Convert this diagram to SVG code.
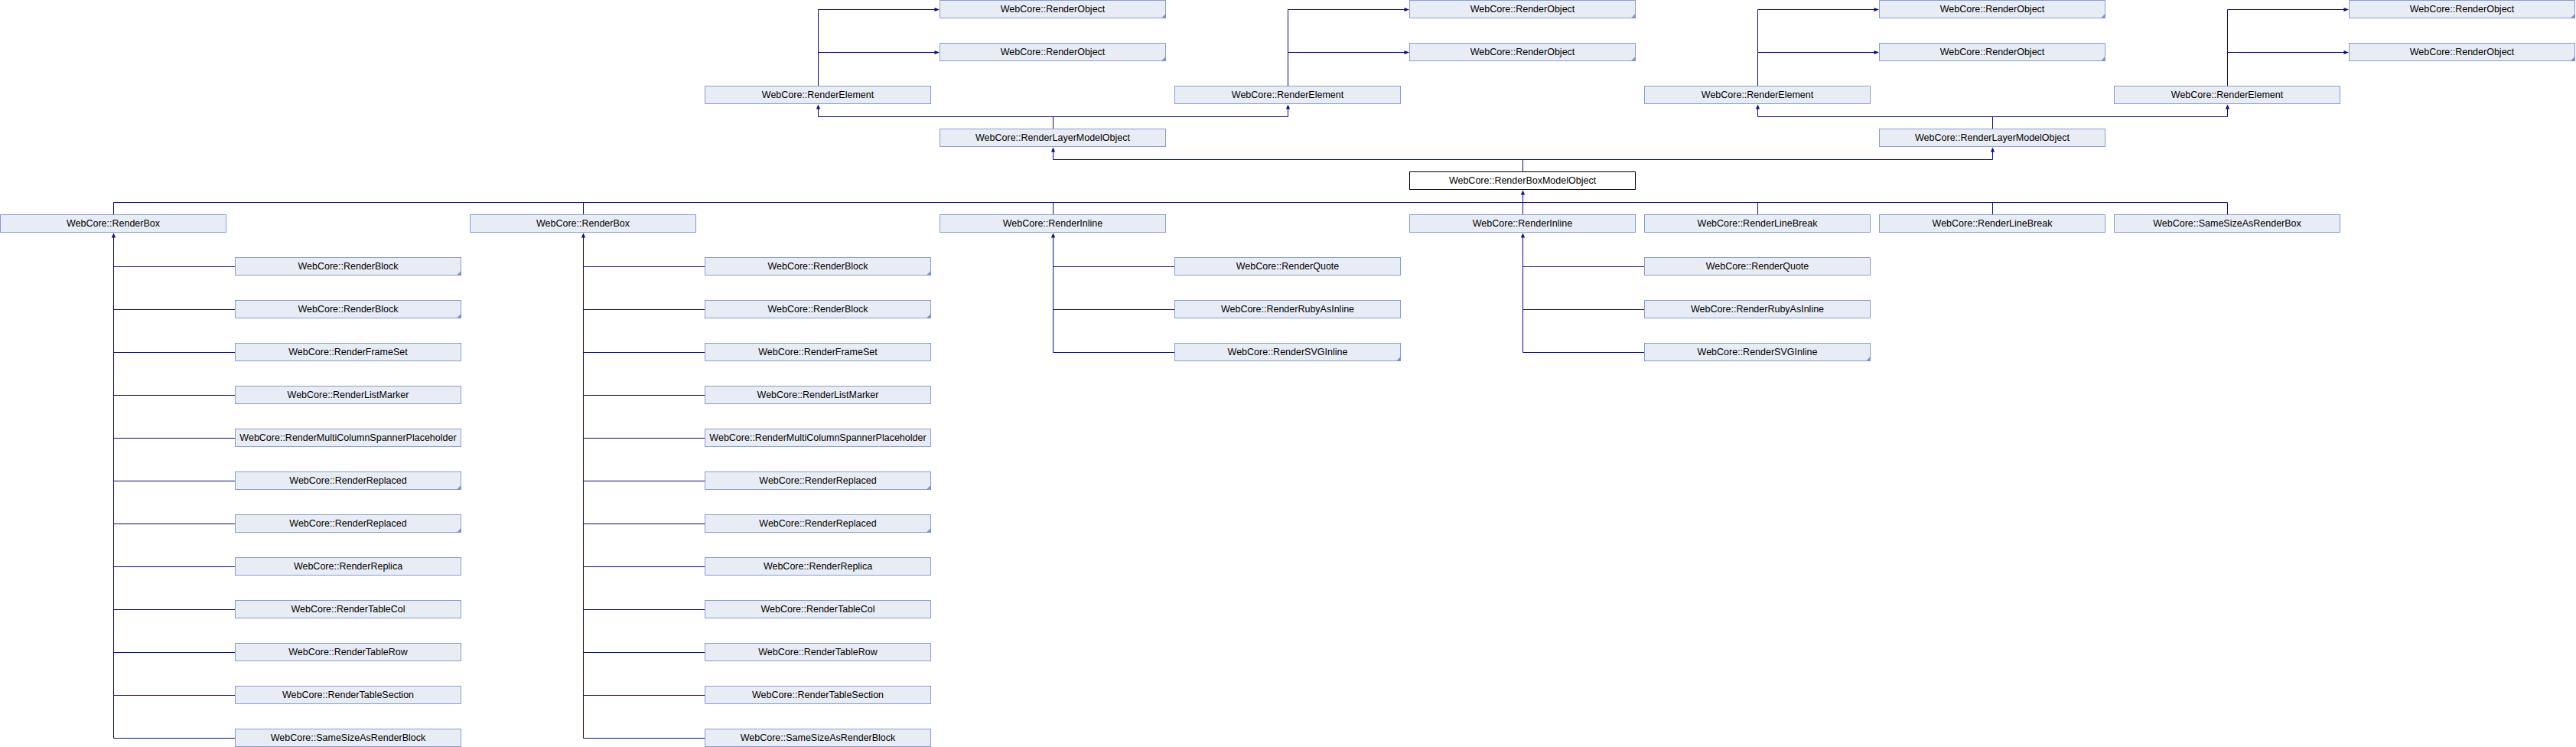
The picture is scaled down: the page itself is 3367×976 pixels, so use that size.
<svg xmlns="http://www.w3.org/2000/svg" width="3367" height="976" viewBox="0 0 3367 976">
<style>
.b{fill:#e8ecf5;stroke:#8a9dd0;stroke-width:1}
.f{fill:#ffffff;stroke:#000000;stroke-width:1}
.t{font-family:"Liberation Sans",Arial,sans-serif;font-size:12.5px;fill:#000000;text-anchor:middle}
.tri{fill:#8393c8}
.ln{fill:none;stroke:#0a0a8e;stroke-width:1}
.ah{fill:#0a0a8e}
</style>
<rect width="3367" height="976" fill="#ffffff"/>
<g id="connectors">
<path class="ln" d="M1069.5 112V12.5H1222M1069.5 68.5H1222M1683.5 112V12.5H1836M1683.5 68.5H1836M2297.5 112V12.5H2450M2297.5 68.5H2450M2911.5 112V12.5H3064M2911.5 68.5H3064"/>
<path class="ln" d="M1069.5 142V152.5H1683.5V142M1376.5 152.5V168M2297.5 142V152.5H2911.5V142M2604.5 152.5V168"/>
<path class="ln" d="M1376.5 198V208.5H2604.5V198M1990.5 208.5V224"/>
<path class="ln" d="M148.5 280V264.5H2911.5V280M762.5 264.5V280M1376.5 264.5V280M1990.5 254V280M2297.5 264.5V280M2604.5 264.5V280"/>
<path class="ln" d="M148.5 310V964.5M148.5 348.5H307M148.5 404.5H307M148.5 460.5H307M148.5 516.5H307M148.5 572.5H307M148.5 628.5H307M148.5 684.5H307M148.5 740.5H307M148.5 796.5H307M148.5 852.5H307M148.5 908.5H307M148.5 964.5H307"/>
<path class="ln" d="M762.5 310V964.5M762.5 348.5H921M762.5 404.5H921M762.5 460.5H921M762.5 516.5H921M762.5 572.5H921M762.5 628.5H921M762.5 684.5H921M762.5 740.5H921M762.5 796.5H921M762.5 852.5H921M762.5 908.5H921M762.5 964.5H921"/>
<path class="ln" d="M1376.5 310V460.5M1376.5 348.5H1535M1376.5 404.5H1535M1376.5 460.5H1535M1990.5 310V460.5M1990.5 348.5H2149M1990.5 404.5H2149M1990.5 460.5H2149"/>
<path class="ah" d="M1228 12.5l-6.5-2.6v5.2zM1228 68.5l-6.5-2.6v5.2zM1842 12.5l-6.5-2.6v5.2zM1842 68.5l-6.5-2.6v5.2zM2456 12.5l-6.5-2.6v5.2zM2456 68.5l-6.5-2.6v5.2zM3070 12.5l-6.5-2.6v5.2zM3070 68.5l-6.5-2.6v5.2z"/>
<path class="ah" d="M1069.5 136.5l-2.6 6h5.2zM1683.5 136.5l-2.6 6h5.2zM2297.5 136.5l-2.6 6h5.2zM2911.5 136.5l-2.6 6h5.2zM1376.5 192.5l-2.6 6h5.2zM2604.5 192.5l-2.6 6h5.2zM1990.5 248.5l-2.6 6h5.2zM148.5 304.5l-2.6 6h5.2zM762.5 304.5l-2.6 6h5.2zM1376.5 304.5l-2.6 6h5.2zM1990.5 304.5l-2.6 6h5.2z"/>
</g>
<g id="n_obj_1" transform="translate(1228,0)"><rect class="b" x="0.5" y="0.5" width="295" height="23"/><path class="tri" d="M296 17.5V24H289.5z"/><text class="t" x="148" y="16">WebCore::RenderObject</text></g>
<g id="n_obj_2" transform="translate(1842,0)"><rect class="b" x="0.5" y="0.5" width="295" height="23"/><path class="tri" d="M296 17.5V24H289.5z"/><text class="t" x="148" y="16">WebCore::RenderObject</text></g>
<g id="n_obj_3" transform="translate(2456,0)"><rect class="b" x="0.5" y="0.5" width="295" height="23"/><path class="tri" d="M296 17.5V24H289.5z"/><text class="t" x="148" y="16">WebCore::RenderObject</text></g>
<g id="n_obj_4" transform="translate(3070,0)"><rect class="b" x="0.5" y="0.5" width="295" height="23"/><path class="tri" d="M296 17.5V24H289.5z"/><text class="t" x="148" y="16">WebCore::RenderObject</text></g>
<g id="n_obj_5" transform="translate(1228,56)"><rect class="b" x="0.5" y="0.5" width="295" height="23"/><path class="tri" d="M296 17.5V24H289.5z"/><text class="t" x="148" y="16">WebCore::RenderObject</text></g>
<g id="n_obj_6" transform="translate(1842,56)"><rect class="b" x="0.5" y="0.5" width="295" height="23"/><path class="tri" d="M296 17.5V24H289.5z"/><text class="t" x="148" y="16">WebCore::RenderObject</text></g>
<g id="n_obj_7" transform="translate(2456,56)"><rect class="b" x="0.5" y="0.5" width="295" height="23"/><path class="tri" d="M296 17.5V24H289.5z"/><text class="t" x="148" y="16">WebCore::RenderObject</text></g>
<g id="n_obj_8" transform="translate(3070,56)"><rect class="b" x="0.5" y="0.5" width="295" height="23"/><path class="tri" d="M296 17.5V24H289.5z"/><text class="t" x="148" y="16">WebCore::RenderObject</text></g>
<g id="n_elem_1" transform="translate(921,112)"><rect class="b" x="0.5" y="0.5" width="295" height="23"/><text class="t" x="148" y="16">WebCore::RenderElement</text></g>
<g id="n_elem_2" transform="translate(1535,112)"><rect class="b" x="0.5" y="0.5" width="295" height="23"/><text class="t" x="148" y="16">WebCore::RenderElement</text></g>
<g id="n_elem_3" transform="translate(2149,112)"><rect class="b" x="0.5" y="0.5" width="295" height="23"/><text class="t" x="148" y="16">WebCore::RenderElement</text></g>
<g id="n_elem_4" transform="translate(2763,112)"><rect class="b" x="0.5" y="0.5" width="295" height="23"/><text class="t" x="148" y="16">WebCore::RenderElement</text></g>
<g id="n_rlmo_1" transform="translate(1228,168)"><rect class="b" x="0.5" y="0.5" width="295" height="23"/><text class="t" x="148" y="16">WebCore::RenderLayerModelObject</text></g>
<g id="n_rlmo_2" transform="translate(2456,168)"><rect class="b" x="0.5" y="0.5" width="295" height="23"/><text class="t" x="148" y="16">WebCore::RenderLayerModelObject</text></g>
<g id="n_rbmo" transform="translate(1842,224)"><rect class="f" x="0.5" y="0.5" width="295" height="23"/><text class="t" x="148" y="16">WebCore::RenderBoxModelObject</text></g>
<g id="n_box_1" transform="translate(0,280)"><rect class="b" x="0.5" y="0.5" width="295" height="23"/><text class="t" x="148" y="16">WebCore::RenderBox</text></g>
<g id="n_box_2" transform="translate(614,280)"><rect class="b" x="0.5" y="0.5" width="295" height="23"/><text class="t" x="148" y="16">WebCore::RenderBox</text></g>
<g id="n_inline_1" transform="translate(1228,280)"><rect class="b" x="0.5" y="0.5" width="295" height="23"/><text class="t" x="148" y="16">WebCore::RenderInline</text></g>
<g id="n_inline_2" transform="translate(1842,280)"><rect class="b" x="0.5" y="0.5" width="295" height="23"/><text class="t" x="148" y="16">WebCore::RenderInline</text></g>
<g id="n_lb_1" transform="translate(2149,280)"><rect class="b" x="0.5" y="0.5" width="295" height="23"/><text class="t" x="148" y="16">WebCore::RenderLineBreak</text></g>
<g id="n_lb_2" transform="translate(2456,280)"><rect class="b" x="0.5" y="0.5" width="295" height="23"/><text class="t" x="148" y="16">WebCore::RenderLineBreak</text></g>
<g id="n_ssrb" transform="translate(2763,280)"><rect class="b" x="0.5" y="0.5" width="295" height="23"/><text class="t" x="148" y="16">WebCore::SameSizeAsRenderBox</text></g>
<g id="n_a_block1" transform="translate(307,336)"><rect class="b" x="0.5" y="0.5" width="295" height="23"/><path class="tri" d="M296 17.5V24H289.5z"/><text class="t" x="148" y="16">WebCore::RenderBlock</text></g>
<g id="n_a_block2" transform="translate(307,392)"><rect class="b" x="0.5" y="0.5" width="295" height="23"/><path class="tri" d="M296 17.5V24H289.5z"/><text class="t" x="148" y="16">WebCore::RenderBlock</text></g>
<g id="n_a_frameset" transform="translate(307,448)"><rect class="b" x="0.5" y="0.5" width="295" height="23"/><text class="t" x="148" y="16">WebCore::RenderFrameSet</text></g>
<g id="n_a_listmarker" transform="translate(307,504)"><rect class="b" x="0.5" y="0.5" width="295" height="23"/><text class="t" x="148" y="16">WebCore::RenderListMarker</text></g>
<g id="n_a_mcsp" transform="translate(307,560)"><rect class="b" x="0.5" y="0.5" width="295" height="23"/><text class="t" x="148" y="16">WebCore::RenderMultiColumnSpannerPlaceholder</text></g>
<g id="n_a_replaced1" transform="translate(307,616)"><rect class="b" x="0.5" y="0.5" width="295" height="23"/><path class="tri" d="M296 17.5V24H289.5z"/><text class="t" x="148" y="16">WebCore::RenderReplaced</text></g>
<g id="n_a_replaced2" transform="translate(307,672)"><rect class="b" x="0.5" y="0.5" width="295" height="23"/><path class="tri" d="M296 17.5V24H289.5z"/><text class="t" x="148" y="16">WebCore::RenderReplaced</text></g>
<g id="n_a_replica" transform="translate(307,728)"><rect class="b" x="0.5" y="0.5" width="295" height="23"/><text class="t" x="148" y="16">WebCore::RenderReplica</text></g>
<g id="n_a_tablecol" transform="translate(307,784)"><rect class="b" x="0.5" y="0.5" width="295" height="23"/><text class="t" x="148" y="16">WebCore::RenderTableCol</text></g>
<g id="n_a_tablerow" transform="translate(307,840)"><rect class="b" x="0.5" y="0.5" width="295" height="23"/><text class="t" x="148" y="16">WebCore::RenderTableRow</text></g>
<g id="n_a_tablesection" transform="translate(307,896)"><rect class="b" x="0.5" y="0.5" width="295" height="23"/><text class="t" x="148" y="16">WebCore::RenderTableSection</text></g>
<g id="n_a_ssrblock" transform="translate(307,952)"><rect class="b" x="0.5" y="0.5" width="295" height="23"/><text class="t" x="148" y="16">WebCore::SameSizeAsRenderBlock</text></g>
<g id="n_b_block1" transform="translate(921,336)"><rect class="b" x="0.5" y="0.5" width="295" height="23"/><path class="tri" d="M296 17.5V24H289.5z"/><text class="t" x="148" y="16">WebCore::RenderBlock</text></g>
<g id="n_b_block2" transform="translate(921,392)"><rect class="b" x="0.5" y="0.5" width="295" height="23"/><path class="tri" d="M296 17.5V24H289.5z"/><text class="t" x="148" y="16">WebCore::RenderBlock</text></g>
<g id="n_b_frameset" transform="translate(921,448)"><rect class="b" x="0.5" y="0.5" width="295" height="23"/><text class="t" x="148" y="16">WebCore::RenderFrameSet</text></g>
<g id="n_b_listmarker" transform="translate(921,504)"><rect class="b" x="0.5" y="0.5" width="295" height="23"/><text class="t" x="148" y="16">WebCore::RenderListMarker</text></g>
<g id="n_b_mcsp" transform="translate(921,560)"><rect class="b" x="0.5" y="0.5" width="295" height="23"/><text class="t" x="148" y="16">WebCore::RenderMultiColumnSpannerPlaceholder</text></g>
<g id="n_b_replaced1" transform="translate(921,616)"><rect class="b" x="0.5" y="0.5" width="295" height="23"/><path class="tri" d="M296 17.5V24H289.5z"/><text class="t" x="148" y="16">WebCore::RenderReplaced</text></g>
<g id="n_b_replaced2" transform="translate(921,672)"><rect class="b" x="0.5" y="0.5" width="295" height="23"/><path class="tri" d="M296 17.5V24H289.5z"/><text class="t" x="148" y="16">WebCore::RenderReplaced</text></g>
<g id="n_b_replica" transform="translate(921,728)"><rect class="b" x="0.5" y="0.5" width="295" height="23"/><text class="t" x="148" y="16">WebCore::RenderReplica</text></g>
<g id="n_b_tablecol" transform="translate(921,784)"><rect class="b" x="0.5" y="0.5" width="295" height="23"/><text class="t" x="148" y="16">WebCore::RenderTableCol</text></g>
<g id="n_b_tablerow" transform="translate(921,840)"><rect class="b" x="0.5" y="0.5" width="295" height="23"/><text class="t" x="148" y="16">WebCore::RenderTableRow</text></g>
<g id="n_b_tablesection" transform="translate(921,896)"><rect class="b" x="0.5" y="0.5" width="295" height="23"/><text class="t" x="148" y="16">WebCore::RenderTableSection</text></g>
<g id="n_b_ssrblock" transform="translate(921,952)"><rect class="b" x="0.5" y="0.5" width="295" height="23"/><text class="t" x="148" y="16">WebCore::SameSizeAsRenderBlock</text></g>
<g id="n_c_quote" transform="translate(1535,336)"><rect class="b" x="0.5" y="0.5" width="295" height="23"/><text class="t" x="148" y="16">WebCore::RenderQuote</text></g>
<g id="n_c_ruby" transform="translate(1535,392)"><rect class="b" x="0.5" y="0.5" width="295" height="23"/><text class="t" x="148" y="16">WebCore::RenderRubyAsInline</text></g>
<g id="n_c_svg" transform="translate(1535,448)"><rect class="b" x="0.5" y="0.5" width="295" height="23"/><path class="tri" d="M296 17.5V24H289.5z"/><text class="t" x="148" y="16">WebCore::RenderSVGInline</text></g>
<g id="n_d_quote" transform="translate(2149,336)"><rect class="b" x="0.5" y="0.5" width="295" height="23"/><text class="t" x="148" y="16">WebCore::RenderQuote</text></g>
<g id="n_d_ruby" transform="translate(2149,392)"><rect class="b" x="0.5" y="0.5" width="295" height="23"/><text class="t" x="148" y="16">WebCore::RenderRubyAsInline</text></g>
<g id="n_d_svg" transform="translate(2149,448)"><rect class="b" x="0.5" y="0.5" width="295" height="23"/><path class="tri" d="M296 17.5V24H289.5z"/><text class="t" x="148" y="16">WebCore::RenderSVGInline</text></g>
</svg>
